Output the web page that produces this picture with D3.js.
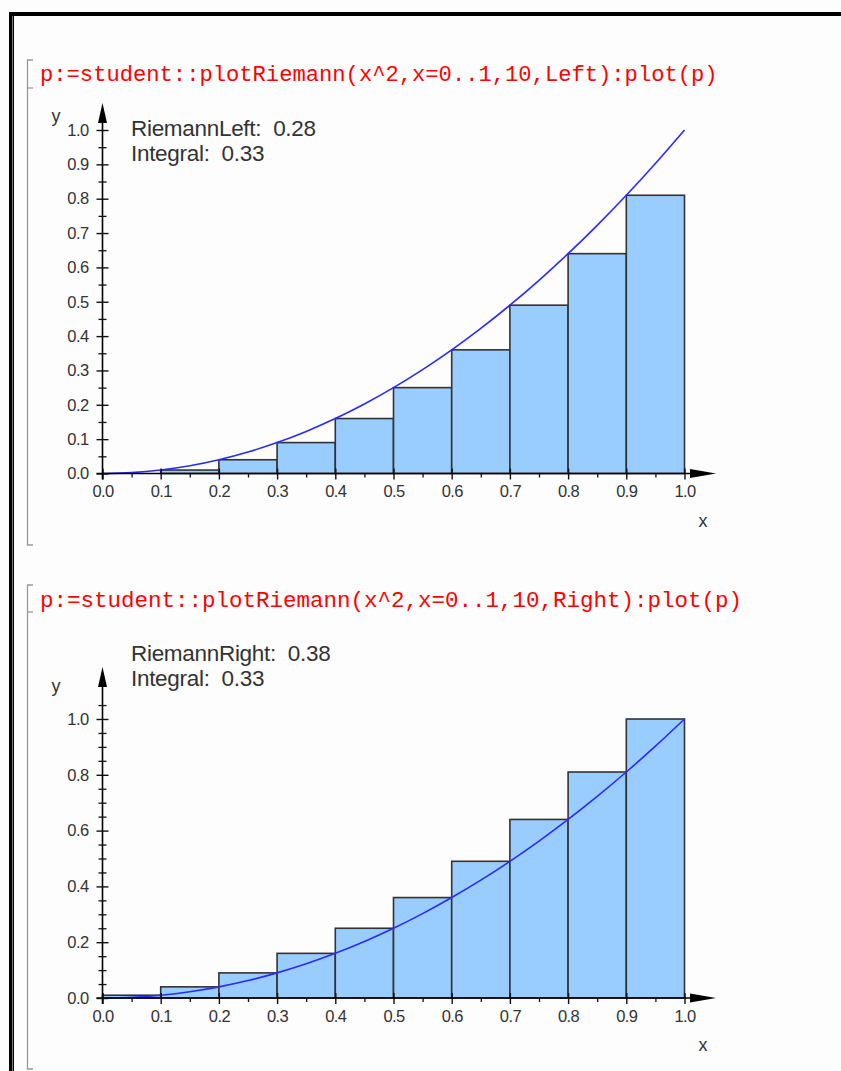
<!DOCTYPE html>
<html>
<head>
<meta charset="utf-8">
<script src="https://cdn.jsdelivr.net/npm/d3@7"></script>
<style>
  html, body { margin: 0; padding: 0; background: #fff; }
  svg { display: block; }
  .code { font-family: "Liberation Mono", "Courier New", monospace; fill: #ff0000; }
  .lbl { font-family: "Liberation Sans", Arial, sans-serif; fill: #333; white-space: pre; }
</style>
</head>
<body>
<script>
// ---------- data ----------
const binStarts = [0.0, 0.1, 0.2, 0.3, 0.4, 0.5, 0.6, 0.7, 0.8, 0.9];
const binWidth = 0.1;
const leftHeights = [0.0, 0.01, 0.04, 0.09, 0.16, 0.25, 0.36, 0.49, 0.64, 0.81];
const rightHeights = [0.01, 0.04, 0.09, 0.16, 0.25, 0.36, 0.49, 0.64, 0.81, 1.0];
const curveX = [0, 0.05, 0.1, 0.15, 0.2, 0.25, 0.3, 0.35, 0.4, 0.45, 0.5, 0.55, 0.6, 0.65, 0.7, 0.75, 0.8, 0.85, 0.9, 0.95, 1.0];
const curveY = [0, 0.0025, 0.01, 0.0225, 0.04, 0.0625, 0.09, 0.1225, 0.16, 0.2025, 0.25, 0.3025, 0.36, 0.4225, 0.49, 0.5625, 0.64, 0.7225, 0.81, 0.9025, 1.0];
const xTicks = [0.0, 0.1, 0.2, 0.3, 0.4, 0.5, 0.6, 0.7, 0.8, 0.9, 1.0];
const xMinor = [0.05, 0.15, 0.25, 0.35, 0.45, 0.55, 0.65, 0.75, 0.85, 0.95];
const yTicks1 = [0.0, 0.1, 0.2, 0.3, 0.4, 0.5, 0.6, 0.7, 0.8, 0.9, 1.0];
const yMinor1 = [0.05, 0.15, 0.25, 0.35, 0.45, 0.55, 0.65, 0.75, 0.85, 0.95];
const yTicks2 = [0.0, 0.2, 0.4, 0.6, 0.8, 1.0];
const yMinor2 = [0.05, 0.1, 0.15, 0.25, 0.3, 0.35, 0.45, 0.5, 0.55, 0.65, 0.7, 0.75, 0.85, 0.9, 0.95, 1.05];
const commands = ["p:=student::plotRiemann(x^2,x=0..1,10,Left):plot(p)",
                  "p:=student::plotRiemann(x^2,x=0..1,10,Right):plot(p)"];
const infoLines1 = ["RiemannLeft:  0.28", "Integral:  0.33"];
const infoLines2 = ["RiemannRight:  0.38", "Integral:  0.33"];

// ---------- svg ----------
const W = 841, H = 1071;
const svg = d3.select("body").append("svg").attr("width", W).attr("height", H);
svg.append("rect").attr("width", W).attr("height", H).attr("fill", "#fdfdfd");

// window frame
svg.append("rect").attr("x", 9).attr("y", 12).attr("width", W).attr("height", 4).attr("fill", "#000");
svg.append("rect").attr("x", 9).attr("y", 12).attr("width", 3).attr("height", H).attr("fill", "#000");
svg.append("rect").attr("x", 12.5).attr("y", 16).attr("width", 1.5).attr("height", H).attr("fill", "#000");

// brackets
function bracket(y0, y1, yMid) {
  const g = svg.append("g").attr("stroke", "#999").attr("stroke-width", 1.3).attr("fill", "none");
  g.append("path").attr("d", `M33,${y0} H27.5 V${y1} H33`);
  g.append("path").attr("d", `M27.5,${yMid} H33`);
}
bracket(60, 545, 88);
bracket(585, 1069, 612);

function styleTick(sel) {
  sel.attr("class", "lbl").style("font-size", "16.5px").style("letter-spacing", "-0.6px").attr("fill", "#2b2b2b");
}

function plot(cfg) {
  const x = d3.scaleLinear().domain([0, 1]).range([102.5, 684.5]);
  const y = d3.scaleLinear().domain([0, 1]).range([cfg.y0, cfg.y1]);
  const g = svg.append("g");

  // command
  g.append("text").attr("class", "code").attr("x", 40).attr("y", cfg.codeY)
    .style("font-size", cfg.codeSize + "px").text(cfg.command);

  // bars
  g.selectAll("rect.bar").data(binStarts).join("rect").attr("class", "bar")
    .attr("x", d => x(d))
    .attr("y", (d, i) => y(cfg.heights[i]))
    .attr("width", x(binWidth) - x(0))
    .attr("height", (d, i) => y(0) - y(cfg.heights[i]))
    .attr("fill", "#99ccff")
    .attr("stroke", "#333")
    .attr("stroke-width", 1.6);

  // curve
  const line = d3.line().x((d, i) => x(curveX[i])).y((d, i) => y(curveY[i])).curve(d3.curveCatmullRom);
  g.append("path").attr("d", line(curveX)).attr("fill", "none")
    .attr("stroke", "#2a2aff").attr("stroke-width", 1.6);

  // x axis
  const xa = g.append("g").attr("transform", `translate(0,${y(0)})`)
    .call(d3.axisBottom(x).tickValues(xTicks).tickFormat(d3.format(".1f")).tickSize(6).tickPadding(6));
  xa.select(".domain").remove();
  xa.selectAll(".tick line").attr("y1", -5).attr("stroke", "#111").attr("stroke-width", 1.4);
  styleTick(xa.selectAll("text"));
  const xm = g.append("g").attr("transform", `translate(0,${y(0)})`)
    .call(d3.axisBottom(x).tickValues(xMinor).tickSize(4).tickFormat(""));
  xm.select(".domain").remove();
  xm.selectAll(".tick line").attr("stroke", "#111").attr("stroke-width", 1.3);
  g.append("line").attr("x1", x(0) - 6).attr("x2", 692).attr("y1", y(0)).attr("y2", y(0))
    .attr("stroke", "#000").attr("stroke-width", 1.6);
  g.append("path").attr("d", `M690,${y(0) - 4.5} L716,${y(0)} L690,${y(0) + 4.5} Z`).attr("fill", "#000");

  // y axis
  const ya = g.append("g").attr("transform", `translate(${x(0)},0)`)
    .call(d3.axisLeft(y).tickValues(cfg.yTicks).tickFormat(d3.format(".1f")).tickSize(6).tickPadding(8));
  ya.select(".domain").remove();
  ya.selectAll(".tick line").attr("x1", 6).attr("stroke", "#111").attr("stroke-width", 1.4);
  styleTick(ya.selectAll("text"));
  const ym = g.append("g").attr("transform", `translate(${x(0)},0)`)
    .call(d3.axisLeft(y).tickValues(cfg.yMinor).tickSize(4).tickFormat(""));
  ym.select(".domain").remove();
  ym.selectAll(".tick line").attr("x1", 4).attr("stroke", "#111").attr("stroke-width", 1.3);
  g.append("line").attr("x1", x(0)).attr("x2", x(0)).attr("y1", y(0) + 6).attr("y2", cfg.arrowTip + 12)
    .attr("stroke", "#000").attr("stroke-width", 1.6);
  g.append("path").attr("d", `M${x(0) - 4.5},${cfg.arrowTip + 20} L${x(0)},${cfg.arrowTip} L${x(0) + 4.5},${cfg.arrowTip + 20} Z`).attr("fill", "#000");

  // axis names
  g.append("text").attr("class", "lbl").attr("x", 703).attr("y", cfg.xLabelY).style("font-size", "18px")
    .attr("text-anchor", "middle").text("x");
  g.append("text").attr("class", "lbl").attr("x", 56).attr("y", cfg.yLabelY).style("font-size", "18px")
    .attr("text-anchor", "middle").text("y");

  // info text
  cfg.info.forEach((t, i) => {
    g.append("text").attr("class", "lbl").attr("x", 131).attr("y", cfg.infoY + i * 25.5)
      .style("font-size", "22.5px").style("letter-spacing", "-0.3px").attr("fill", "#333").text(t);
  });
}

plot({ y0: 473.5, y1: 130, heights: leftHeights, command: commands[0], codeY: 81, codeSize: 22.15,
       yTicks: yTicks1, yMinor: yMinor1, arrowTip: 103, xLabelY: 527, yLabelY: 122,
       info: infoLines1, infoY: 135.5 });
plot({ y0: 998, y1: 719, heights: rightHeights, command: commands[1], codeY: 607, codeSize: 22.5,
       yTicks: yTicks2, yMinor: yMinor2, arrowTip: 667, xLabelY: 1051, yLabelY: 692,
       info: infoLines2, infoY: 660.5 });
</script>
</body>
</html>
